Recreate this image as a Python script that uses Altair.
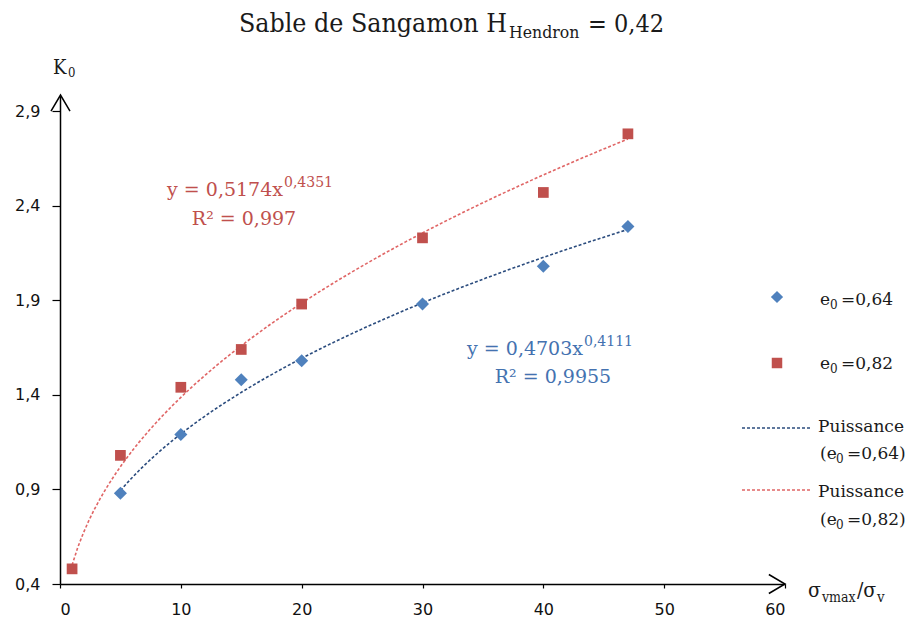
import altair as alt
import pandas as pd

# ---------------- data ----------------
x_064 = [5, 10, 15, 20, 30, 40, 47]
k_064 = [0.88, 1.19, 1.48, 1.58, 1.88, 2.08, 2.29]
x_082 = [1, 5, 10, 15, 20, 30, 40, 47]
k_082 = [0.48, 1.08, 1.44, 1.64, 1.88, 2.23, 2.47, 2.78]

x_ticks = [0, 10, 20, 30, 40, 50, 60]
y_ticks = [0.4, 0.9, 1.4, 1.9, 2.4, 2.9]

title_parts = ["Sable de Sangamon H", "Hendron", "= 0,42"]
y_title_parts = ["K", "0"]
x_title_parts = ["σ", "vmax", "/σ", "v"]
eq_064 = ["y = 0,4703x", "0,4111", "R² = 0,9955"]
eq_082 = ["y = 0,5174x", "0,4351", "R² = 0,997"]
legend_064 = ["e", "0", "=0,64"]
legend_082 = ["e", "0", "=0,82"]
legend_trend = ["Puissance", "(e", "0", "=0,64)", "(e", "0", "=0,82)"]

# ---------------- styling ----------------
W, H = 725, 488
SERIF_C = "DejaVu Serif Condensed, DejaVu Serif, serif"
SERIF = "DejaVu Serif, serif"
SANS = "DejaVu Sans, Verdana, sans-serif"
BLUE_PT = "#4F81BD"
RED_PT = "#C0504D"
BLUE_LN = "#2B4C7E"
RED_LN = "#E06666"
BLUE_TX = "#4472B0"
RED_TX = "#C0504D"

df64 = pd.DataFrame({"x": x_064, "k": k_064})
df82 = pd.DataFrame({"x": x_082, "k": k_082})

x_scale = alt.Scale(domain=[0, 60], nice=False, zero=False)
y_scale = alt.Scale(domain=[0.4, 2.98], nice=False, zero=False)

x_axis = alt.Axis(values=x_ticks, grid=False, title=None, domainColor="#000", domainWidth=1.5,
                  tickColor="#000", tickWidth=1.2, tickSize=4, labelPadding=13,
                  labelFont=SANS, labelFontSize=16, labelColor="#111")
y_axis = alt.Axis(values=y_ticks, grid=False, title=None, domainColor="#000", domainWidth=1.5,
                  tickColor="#000", tickWidth=1.2, tickSize=8, labelPadding=12,
                  labelFont=SANS, labelFontSize=16, labelColor="#111",
                  labelExpr="replace(format(datum.value, '.1f'), '.', ',')")

X = alt.X("x:Q", scale=x_scale, axis=x_axis)
Y = alt.Y("k:Q", scale=y_scale, axis=y_axis)

trend64 = alt.Chart(df64).transform_regression(on="x", regression="k", method="pow").mark_line(
    color=BLUE_LN, strokeWidth=1.6, strokeDash=[3, 2]).encode(x=X, y=Y)
trend82 = alt.Chart(df82).transform_regression(on="x", regression="k", method="pow").mark_line(
    color=RED_LN, strokeWidth=1.6, strokeDash=[3, 2]).encode(x=X, y=Y)

pts64 = alt.Chart(df64).mark_point(shape="diamond", filled=True, size=170, color=BLUE_PT, opacity=1).encode(x=X, y=Y)
pts82 = alt.Chart(df82).mark_point(shape="square", filled=True, size=115, color=RED_PT, opacity=1).encode(x=X, y=Y)


def txt(t, x, y, size, color="#1a1a1a", align="left", font=SERIF):
    return alt.Chart(pd.DataFrame({"t": [t]})).mark_text(
        align=align, baseline="alphabetic", font=font, fontSize=size, color=color
    ).encode(text="t:N", x=alt.value(x), y=alt.value(y))


def arrow(path, x, y):
    return alt.Chart(pd.DataFrame({"a": [0]})).mark_point(
        shape=path, filled=False, size=361, stroke="#000", strokeWidth=1.5, opacity=1
    ).encode(x=alt.value(x), y=alt.value(y))


def leg_line(x1, x2, y, color):
    return alt.Chart(pd.DataFrame({"a": [0]})).mark_rule(
        color=color, strokeWidth=1.6, strokeDash=[3, 2]
    ).encode(x=alt.value(x1), x2=alt.value(x2), y=alt.value(y))


def leg_pt(shape, x, y, size, color):
    return alt.Chart(pd.DataFrame({"a": [0]})).mark_point(
        shape=shape, filled=True, size=size, color=color, opacity=1
    ).encode(x=alt.value(x), y=alt.value(y))


def sub_label(parts, x, y, x_sub, x_rest):
    return [txt(parts[0], x, y, 17), txt(parts[1], x_sub, y + 4, 12), txt(parts[2], x_rest, y, 17)]


layers = [
    trend82, trend64, pts64, pts82,
    arrow("M -1 1.7 L 0 0 L 1 1.7", 0.5, -1),
    arrow("M -1.7 -1 L 0 0 L -1.7 1", W, H),
    # title
    txt(title_parts[0], 447, -64, 26.5, align="right", font=SERIF_C),
    txt(title_parts[1], 449, -58, 17.5, font=SERIF_C),
    txt(title_parts[2], 528, -64, 25, font=SERIF_C),
    # axis titles
    txt(y_title_parts[0], -7, -22, 20, font=SERIF_C),
    txt(y_title_parts[1], 8, -19, 13, font=SERIF_C),
    txt(x_title_parts[0], 748, 501, 21, font=SERIF_C),
    txt(x_title_parts[1], 762, 506, 14, font=SERIF_C),
    txt(x_title_parts[2], 797, 501, 21, font=SERIF_C),
    txt(x_title_parts[3], 817, 506, 15, font=SERIF_C),
    # equations
    txt(eq_082[0], 223, 100, 19, RED_TX, align="right"),
    txt(eq_082[1], 224, 91, 14, RED_TX),
    txt(eq_082[2], 184, 129, 19, RED_TX, align="center"),
    txt(eq_064[0], 523, 259, 19, BLUE_TX, align="right"),
    txt(eq_064[1], 524, 250, 14, BLUE_TX),
    txt(eq_064[2], 493, 287, 19, BLUE_TX, align="center"),
    # legend
    leg_pt("diamond", 717, 201, 150, BLUE_PT),
    leg_pt("square", 717, 267, 110, RED_PT),
    leg_line(682, 750, 332, BLUE_LN),
    leg_line(682, 750, 394, RED_LN),
    txt(legend_trend[0], 758, 336, 17),
    txt(legend_trend[0], 758, 401, 17),
]
layers += sub_label(legend_064, 760, 209, 770, 781)
layers += sub_label(legend_082, 760, 273, 770, 781)
layers += sub_label(legend_trend[1:4], 760, 363, 776, 787)
layers += sub_label(legend_trend[4:7], 760, 429, 776, 787)

chart = alt.layer(*layers).properties(
    width=W, height=H,
    autosize=alt.AutoSizeParams(type="none"),
    padding={"left": 52, "top": 88, "right": 126, "bottom": 34},
).configure(background="white").configure_view(stroke=None)

chart.save("out.html", embed_options={"renderer": "svg", "actions": False})
